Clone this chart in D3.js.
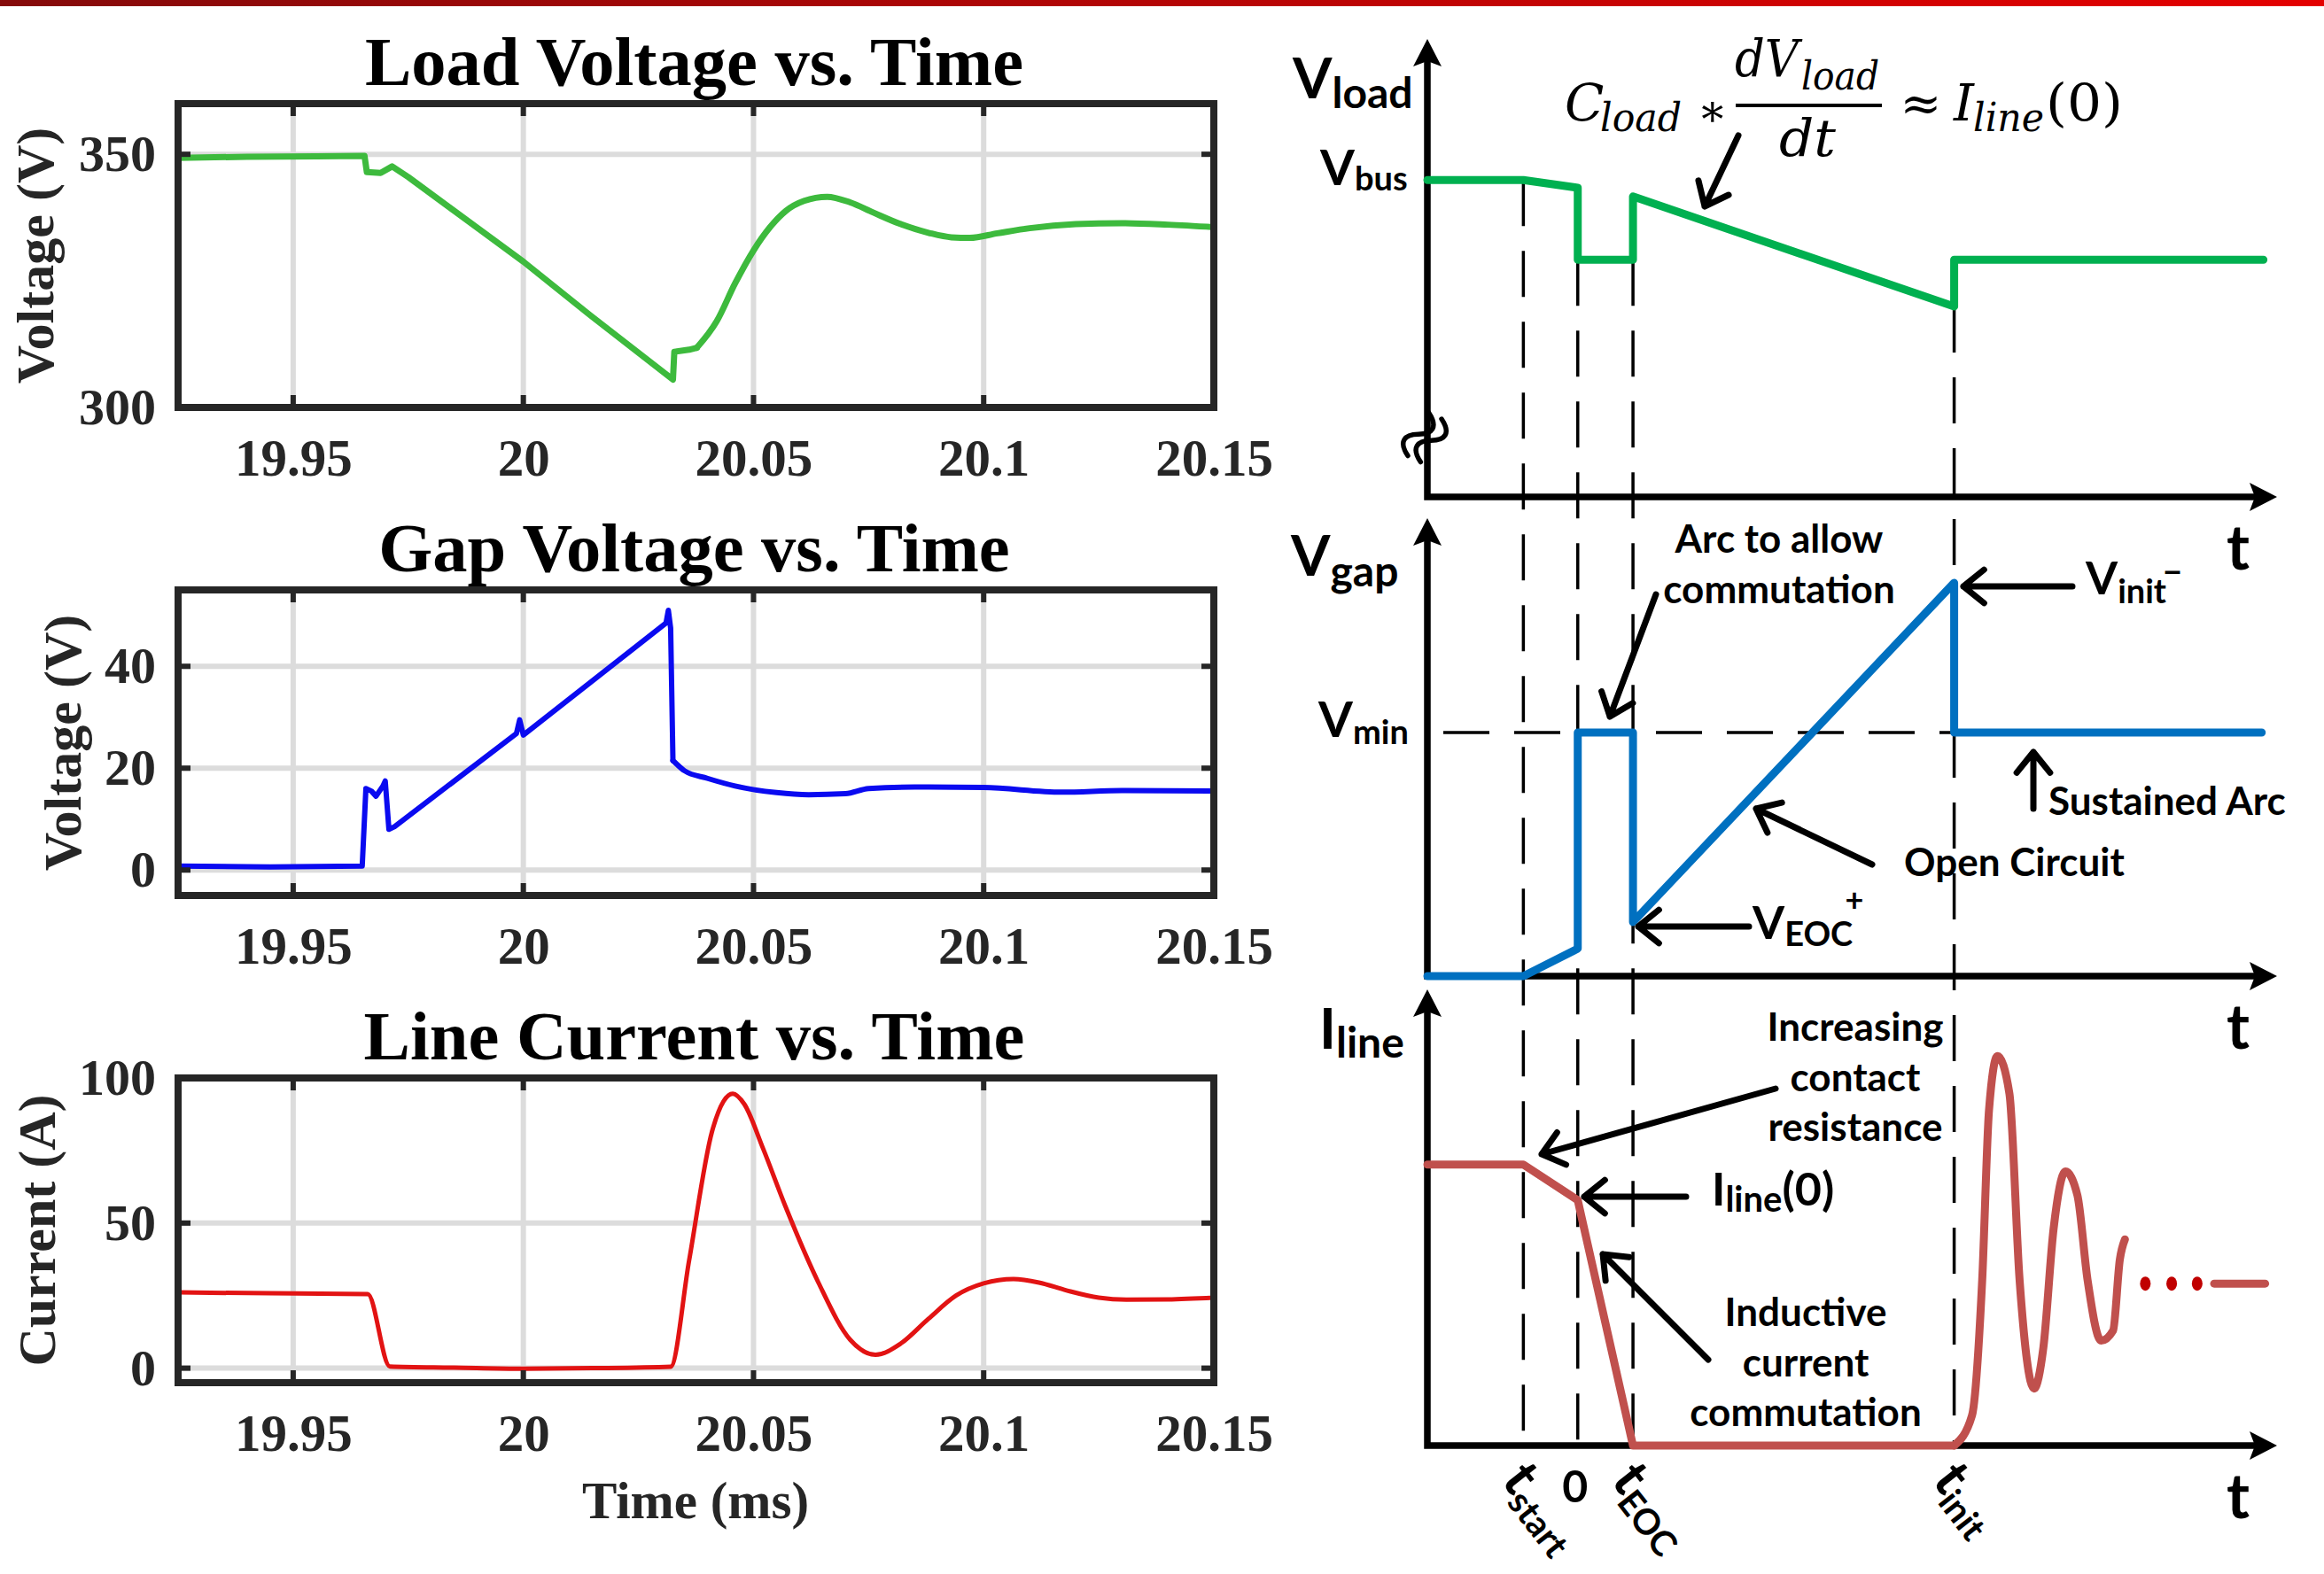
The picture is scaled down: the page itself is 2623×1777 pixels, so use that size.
<!DOCTYPE html>
<html>
<head>
<meta charset="utf-8">
<script src="https://cdn.jsdelivr.net/npm/d3@7"></script>
<style>
  body { margin: 0; background: #fff; }
  svg { display: block; }
  .serif { font-family: "Liberation Serif", "Times New Roman", serif; font-weight: bold; }
  .cal { font-family: Lato, "Open Sans", sans-serif; font-weight: bold; }
  .math { font-family: "DejaVu Serif", serif; font-style: italic; }
  .mathup { font-family: "DejaVu Serif", serif; }
</style>
</head>
<body>
<svg id="chart" width="2623" height="1777"></svg>
<script>
// ---- measured traces (left) ----
const timeTicks = [19.95, 20, 20.05, 20.1, 20.15];
const loadTicks = [300, 350];
const gapTicks = [0, 20, 40];
const currentTicks = [0, 50, 100];

const loadTime = [19.925, 19.94, 19.955, 19.9655, 19.966, 19.969, 19.9715, 19.975, 20.0, 20.0144, 20.0325,
  20.0328, 20.036, 20.0377, 20.042, 20.046, 20.05, 20.0535, 20.057, 20.061, 20.066, 20.071, 20.076, 20.082,
  20.088, 20.093, 20.097, 20.103, 20.11, 20.12, 20.13, 20.14, 20.15];
const loadVolt = [349.3, 349.5, 349.6, 349.7, 346.5, 346.3, 347.6, 345.5, 328.8, 318.3, 305.5,
  311.0, 311.4, 311.8, 317.0, 324.5, 331.0, 335.5, 338.8, 340.8, 341.6, 340.5, 338.5, 336.2,
  334.5, 333.6, 333.5, 334.4, 335.4, 336.2, 336.4, 336.1, 335.6];

const gapTime = [19.925, 19.945, 19.965, 19.9658, 19.967, 19.968, 19.9695, 19.970, 19.9708, 19.972, 19.9985,
  19.9992, 20.0, 20.031, 20.0315, 20.032, 20.0325, 20.035, 20.04, 20.046, 20.055, 20.062, 20.07, 20.075,
  20.085, 20.1, 20.117, 20.13, 20.15];
const gapVolt = [0.8, 0.6, 0.8, 16.0, 15.5, 14.5, 16.5, 17.5, 8.0, 8.5, 26.8,
  29.5, 26.5, 48.5, 51.0, 47.5, 21.5, 19.5, 18.0, 16.5, 15.2, 14.8, 15.0, 16.0,
  16.3, 16.2, 15.3, 15.6, 15.5];

const currentTime = [19.925, 19.945, 19.9662, 19.971, 19.985, 20.0, 20.015, 20.032, 20.036, 20.041, 20.0435,
  20.0455, 20.048, 20.052, 20.057, 20.0641, 20.071, 20.0765, 20.082, 20.088, 20.094, 20.1, 20.1065, 20.112,
  20.118, 20.125, 20.131, 20.14, 20.15];
const currentAmp = [26.1, 25.8, 25.5, 0.6, 0.2, -0.2, 0.0, 0.5, 37, 81.6, 92,
  94.6, 91, 76, 55.5, 29.5, 9.8, 4.6, 8.5, 17, 25, 29.2, 30.7, 29.5,
  26.8, 24.3, 23.6, 23.7, 24.3];

// ---- idealised waveforms (right), arbitrary units 0..100 ----
const markTime = [11.3, 17.7, 24.2, 62.0];
const markTop = [69.2, 51.8, 51.8, 41.6];
const markSub = ["start", "", "EOC", "init"];
const markMain = ["t", "0", "t", "t"];

const vloadT = [0, 11.3, 17.7, 17.7, 24.2, 24.2, 62, 62, 98.4];
const vloadV = [69.2, 69.2, 67.5, 51.8, 51.8, 65.6, 41.6, 51.8, 51.8];
const vgapT = [0, 11.3, 17.7, 17.7, 24.2, 24.2, 62, 62, 98.2];
const vgapV = [0, 0, 6, 53.2, 53.2, 11.8, 85.9, 53.2, 53.2];
const vminLevel = 53.2;
const ilineT = [0, 11.3, 17.7, 24.2, 62];
const ilineV = [61.6, 61.6, 53.8, 0, 0];
const ringT = [62, 64.1, 65.3, 66.1, 67.1, 68.5, 69.7, 71.4, 72.5, 73.7, 75.1, 76.5, 77.7, 79.3, 80.7, 81.5, 82.1];
const ringV = [0, 6.6, 36.3, 73.5, 85.4, 77.2, 36.3, 12.5, 21.5, 47.5, 60.1, 54.9, 36.3, 23, 25.2, 40.8, 45.2];
const dotT = [84.5, 87.6, 90.6];
const settleT = [92.6, 98.6];
const settleV = 35.5;

const svg = d3.select("#chart");

// top banner
const grad = svg.append("defs").append("linearGradient").attr("id", "banner");
grad.append("stop").attr("offset", "0%").attr("stop-color", "#850a0a");
grad.append("stop").attr("offset", "100%").attr("stop-color", "#e40000");
svg.append("rect").attr("width", 2623).attr("height", 7).attr("fill", "url(#banner)");

// ================= left: measured plots =================
const plotL = 201, plotR = 1370;
const x = d3.scaleLinear().domain([19.925, 20.15]).range([plotL, plotR]);

// smoothFrom: points after this time are drawn with a smooth curve
const panels = [
  { title: "Load Voltage vs. Time", ylab: "Voltage (V)", domain: [300, 360], ticks: loadTicks,
    t: loadTime, v: loadVolt, color: "#3dba3d", w: 7, smoothFrom: 20.0377, top: 117, bottom: 460, labX: 60 },
  { title: "Gap Voltage vs. Time", ylab: "Voltage (V)", domain: [-5, 55], ticks: gapTicks,
    t: gapTime, v: gapVolt, color: "#0a0af0", w: 6, smoothFrom: 20.0325, top: 666, bottom: 1011, labX: 91 },
  { title: "Line Current vs. Time", ylab: "Current (A)", domain: [-5, 100], ticks: currentTicks,
    t: currentTime, v: currentAmp, color: "#e21313", w: 5, smoothFrom: 19.925, top: 1217, bottom: 1561, labX: 62 }
];

panels.forEach(p => {
  const y = d3.scaleLinear().domain(p.domain).range([p.bottom, p.top]);
  const g = svg.append("g");

  // grid
  g.selectAll(".vgrid").data(timeTicks).join("line")
    .attr("class", "vgrid")
    .attr("x1", d => x(d)).attr("x2", d => x(d))
    .attr("y1", p.top).attr("y2", p.bottom)
    .attr("stroke", "#dcdcdc").attr("stroke-width", 6);
  g.selectAll(".hgrid").data(p.ticks).join("line")
    .attr("class", "hgrid")
    .attr("x1", plotL).attr("x2", plotR)
    .attr("y1", d => y(d)).attr("y2", d => y(d))
    .attr("stroke", "#dcdcdc").attr("stroke-width", 6);

  // trace: straight part, then smooth part
  const pts = d3.zip(p.t, p.v);
  const sharp = pts.filter(d => d[0] <= p.smoothFrom);
  const smooth = pts.filter(d => d[0] >= p.smoothFrom);
  [[sharp, d3.curveLinear], [smooth, d3.curveMonotoneX]].forEach(([seg, curve]) => {
    if (seg.length < 2) return;
    g.append("path")
      .datum(seg)
      .attr("d", d3.line().x(d => x(d[0])).y(d => y(d[1])).curve(curve))
      .attr("fill", "none")
      .attr("stroke", p.color)
      .attr("stroke-width", p.w)
      .attr("stroke-linejoin", "round")
      .attr("stroke-linecap", "round");
  });

  // inward tick marks
  const tk = 14;
  timeTicks.forEach(d => {
    g.append("line").attr("x1", x(d)).attr("x2", x(d)).attr("y1", p.top).attr("y2", p.top + tk);
    g.append("line").attr("x1", x(d)).attr("x2", x(d)).attr("y1", p.bottom - tk).attr("y2", p.bottom);
  });
  p.ticks.forEach(d => {
    g.append("line").attr("x1", plotL).attr("x2", plotL + tk).attr("y1", y(d)).attr("y2", y(d));
    g.append("line").attr("x1", plotR - tk).attr("x2", plotR).attr("y1", y(d)).attr("y2", y(d));
  });
  g.selectAll("line:not(.vgrid):not(.hgrid)")
    .attr("stroke", "#262626").attr("stroke-width", 6);

  // box
  g.append("rect")
    .attr("x", plotL).attr("y", p.top)
    .attr("width", plotR - plotL).attr("height", p.bottom - p.top)
    .attr("fill", "none").attr("stroke", "#262626").attr("stroke-width", 8);

  // axes
  const xAxis = g.append("g")
    .attr("transform", `translate(0,${p.bottom})`)
    .call(d3.axisBottom(x).tickValues(timeTicks).tickSize(0).tickFormat(d => `${d}`));
  xAxis.select(".domain").remove();
  xAxis.attr("font-family", null).attr("font-size", null);
  xAxis.selectAll("text")
    .attr("class", "serif").attr("y", 77).attr("dy", null)
    .attr("fill", "#262626").style("font-size", "59px");

  const yAxis = g.append("g")
    .attr("transform", `translate(${plotL},0)`)
    .call(d3.axisLeft(y).tickValues(p.ticks).tickSize(0).tickPadding(25));
  yAxis.select(".domain").remove();
  yAxis.attr("font-family", null).attr("font-size", null);
  yAxis.selectAll("text")
    .attr("class", "serif").attr("fill", "#262626").style("font-size", "58px");

  // title and y label
  g.append("text")
    .attr("class", "serif")
    .attr("x", (plotL + plotR) / 2 - 2).attr("y", p.top - 21)
    .attr("text-anchor", "middle")
    .style("font-size", "78.5px")
    .text(p.title);
  g.append("text")
    .attr("class", "serif")
    .attr("transform", `translate(${p.labX},${(p.top + p.bottom) / 2}) rotate(-90)`)
    .attr("text-anchor", "middle")
    .attr("fill", "#262626")
    .style("font-size", "60px")
    .text(p.ylab);
});

svg.append("text")
  .attr("class", "serif")
  .attr("x", 785).attr("y", 1714)
  .attr("text-anchor", "middle")
  .attr("fill", "#262626")
  .style("font-size", "59px")
  .text("Time (ms)");

// ================= right: idealised waveforms =================
const sx = d3.scaleLinear().domain([0, 100]).range([1611, 2570]);
const syLoad = d3.scaleLinear().domain([0, 100]).range([561, 44]);
const syGap = d3.scaleLinear().domain([0, 100]).range([1102, 585]);
const syLine = d3.scaleLinear().domain([0, 100]).range([1632, 1117]);
const right = svg.append("g");

// dashed guides
right.selectAll(".guide").data(markTime).join("line")
  .attr("class", "guide")
  .attr("x1", d => sx(d)).attr("x2", d => sx(d))
  .attr("y1", (d, i) => syLoad(markTop[i])).attr("y2", syLine(0))
  .attr("stroke", "#000").attr("stroke-width", 3.5).attr("stroke-dasharray", "52 28");
right.append("line")
  .attr("x1", sx(0)).attr("x2", sx(markTime[3]))
  .attr("y1", syGap(vminLevel)).attr("y2", syGap(vminLevel))
  .attr("stroke", "#000").attr("stroke-width", 3.5).attr("stroke-dasharray", "52 28")
  .attr("stroke-dashoffset", -18);

// axes with arrow heads
[syLoad, syGap, syLine].forEach(sy => {
  const ox = sx(0), oy = sy(0), ty = sy(100), tx = sx(100);
  right.append("path")
    .attr("d", `M${ox},${ty + 20}V${oy}H${tx - 20}`)
    .attr("fill", "none").attr("stroke", "#000").attr("stroke-width", 7.5);
  right.append("path")
    .attr("d", `M${ox},${ty}L${ox - 16},${ty + 31}L${ox},${ty + 25}L${ox + 16},${ty + 31}Z`)
    .attr("fill", "#000");
  right.append("path")
    .attr("d", `M${tx},${oy}L${tx - 31},${oy - 16}L${tx - 25},${oy}L${tx - 31},${oy + 16}Z`)
    .attr("fill", "#000");
});

// axis break mark on V_load (two wavy strokes)
right.append("g")
  .attr("transform", `translate(${sx(0) - 3},${syLoad(13)}) rotate(-64)`)
  .selectAll("path").data([-8, 8]).join("path")
    .attr("d", d => `M-27,${d}C-17,${d - 17} -7,${d - 14} 0,${d}S17,${d + 17} 27,${d}`)
    .attr("fill", "none").attr("stroke", "#000").attr("stroke-width", 5.5)
    .attr("stroke-linecap", "round");

// traces
const lin = (sy) => d3.line().x(d => sx(d[0])).y(d => sy(d[1]));
right.append("path").datum(d3.zip(vloadT, vloadV)).attr("d", lin(syLoad))
  .attr("fill", "none").attr("stroke", "#00b050").attr("stroke-width", 9)
  .attr("stroke-linejoin", "round").attr("stroke-linecap", "round");
right.append("path").datum(d3.zip(vgapT, vgapV)).attr("d", lin(syGap))
  .attr("fill", "none").attr("stroke", "#0070c0").attr("stroke-width", 9)
  .attr("stroke-linejoin", "round").attr("stroke-linecap", "round");
right.append("path").datum(d3.zip(ilineT, ilineV)).attr("d", lin(syLine))
  .attr("fill", "none").attr("stroke", "#c0504d").attr("stroke-width", 9)
  .attr("stroke-linejoin", "round").attr("stroke-linecap", "round");
right.append("path").datum(d3.zip(ringT, ringV)).attr("d", lin(syLine).curve(d3.curveMonotoneX))
  .attr("fill", "none").attr("stroke", "#c0504d").attr("stroke-width", 9)
  .attr("stroke-linejoin", "round").attr("stroke-linecap", "round");
right.selectAll(".dot").data(dotT).join("ellipse")
  .attr("class", "dot")
  .attr("cx", d => sx(d)).attr("cy", syLine(settleV))
  .attr("rx", 6).attr("ry", 8).attr("fill", "#c00000");
right.append("line")
  .attr("x1", sx(settleT[0])).attr("x2", sx(settleT[1]))
  .attr("y1", syLine(settleV)).attr("y2", syLine(settleV))
  .attr("stroke", "#c0504d").attr("stroke-width", 9).attr("stroke-linecap", "round");

// annotation arrows [tailX, tailY, headX, headY]
const arrows = [
  [1962, 153, 1924, 233],
  [1869, 671, 1817, 809],
  [2113, 976, 1982, 913],
  [1974, 1046, 1849, 1046],
  [2339, 662, 2216, 662],
  [2295, 913, 2295, 849],
  [2004, 1229, 1740, 1303],
  [1903, 1351, 1788, 1351],
  [1928, 1535, 1809, 1416]
];
right.selectAll(".arrow").data(arrows).join("path")
  .attr("class", "arrow")
  .attr("d", ([x1, y1, x2, y2]) => {
    const a = Math.atan2(y1 - y2, x1 - x2), L = 30, s = 0.68;
    const p1 = [x2 + L * Math.cos(a + s), y2 + L * Math.sin(a + s)];
    const p2 = [x2 + L * Math.cos(a - s), y2 + L * Math.sin(a - s)];
    return `M${x1},${y1}L${x2},${y2}M${p1}L${x2},${y2}L${p2}`;
  })
  .attr("fill", "none").attr("stroke", "#000").attr("stroke-width", 7)
  .attr("stroke-linecap", "round").attr("stroke-linejoin", "round");

// label helper: main text + subscript
const subLabel = (px, py, main, sub, mSize, sSize, sDy, extra) => {
  const t = right.append("text").attr("class", "cal").attr("x", px).attr("y", py);
  t.append("tspan").style("font-size", `${mSize}px`).text(main);
  t.append("tspan").style("font-size", `${sSize}px`).attr("dy", sDy).text(sub);
  if (extra) t.append("tspan").style("font-size", `${mSize}px`).attr("dy", -sDy).text(extra);
  return t;
};
subLabel(1459, 111, "V", "load", 64, 48, 11);
subLabel(1490, 209, "V", "bus", 56, 38, 6);
subLabel(1457, 650, "V", "gap", 64, 48, 12);
subLabel(1488, 832, "V", "min", 56, 38, 8);
subLabel(1489, 1184, "I", "line", 64, 48, 10);
subLabel(1978, 1060, "V", "EOC", 52, 38, 8);
subLabel(2354, 671, "V", "init", 52, 38, 10);
subLabel(1932, 1361, "I", "line", 52, 40, 7, "(0)");
right.append("text").attr("class", "cal").attr("x", 2093).attr("y", 1029)
  .attr("text-anchor", "middle").style("font-size", "36px").text("+");
right.append("text").attr("class", "cal").attr("x", 2452).attr("y", 659)
  .attr("text-anchor", "middle").style("font-size", "38px").text("−");

// t axis labels
[syLoad, syGap, syLine].forEach(sy => {
  right.append("text").attr("class", "cal")
    .attr("x", 2526).attr("y", sy(0) + 82)
    .attr("text-anchor", "middle").style("font-size", "70px").text("t");
});

// multi-line notes
const notes = [
  { x: 2008, y: 624, lines: ["Arc to allow", "commutation"], anchor: "middle" },
  { x: 2149, y: 989, lines: ["Open Circuit"], anchor: "start" },
  { x: 2312, y: 920, lines: ["Sustained Arc"], anchor: "start" },
  { x: 2094, y: 1175, lines: ["Increasing", "contact", "resistance"], anchor: "middle" },
  { x: 2038, y: 1497, lines: ["Inductive", "current", "commutation"], anchor: "middle" }
];
notes.forEach(n => {
  right.append("text").attr("class", "cal")
    .attr("text-anchor", n.anchor).style("font-size", "44px")
    .selectAll("tspan").data(n.lines).join("tspan")
      .attr("x", n.x).attr("y", (d, i) => n.y + i * 56.5)
      .text(d => d);
});

// time markers under bottom axis
markTime.forEach((t, i) => {
  if (markSub[i] === "") {
    right.append("text").attr("class", "cal")
      .attr("x", sx(t) - 3).attr("y", syLine(0) + 64)
      .attr("text-anchor", "middle").style("font-size", "50px").text(markMain[i]);
  } else {
    const lab = right.append("text").attr("class", "cal")
      .attr("transform", `translate(${sx(t) - 26},${syLine(0) + 40}) rotate(52)`);
    lab.append("tspan").style("font-size", "62px").text(markMain[i]);
    lab.append("tspan").style("font-size", "40px").attr("dy", 10).text(markSub[i]);
  }
});

// formula  C_load * dV_load/dt ≈ I_line(0)
const fml = right.append("g");
const ftxt = (cls, px, py, size, s, len) => {
  const t = fml.append("text").attr("class", cls)
    .attr("x", px).attr("y", py).style("font-size", `${size}px`).text(s);
  if (len) t.attr("textLength", len).attr("lengthAdjust", "spacingAndGlyphs");
  return t;
};
ftxt("math", 1766, 136, 58, "C");
ftxt("math", 1806, 148, 44, "load", 92);
ftxt("mathup", 1933, 142, 50, "∗").attr("text-anchor", "middle");
ftxt("math", 1958, 86, 58, "dV", 72);
ftxt("math", 2033, 101, 44, "load", 88);
fml.append("line").attr("x1", 1959).attr("x2", 2124).attr("y1", 119).attr("y2", 119)
  .attr("stroke", "#000").attr("stroke-width", 4);
ftxt("math", 2008, 176, 58, "dt", 64);
ftxt("mathup", 2168, 136, 56, "≈").attr("text-anchor", "middle");
ftxt("math", 2205, 136, 58, "I");
ftxt("math", 2227, 148, 44, "line", 80);
ftxt("mathup", 2309, 136, 58, "(0)", 87);
</script>
</body>
</html>
